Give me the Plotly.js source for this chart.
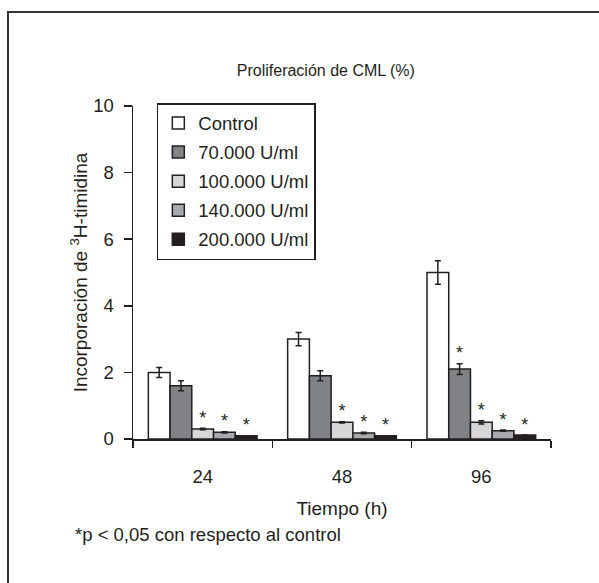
<!DOCTYPE html>
<html>
<head>
<meta charset="utf-8">
<script src="https://cdn.plot.ly/plotly-3.0.1.min.js"></script>
<style>
  html, body { margin: 0; padding: 0; background: #fff; }
  #chart { width: 599px; height: 583px; position: absolute; left: 0; top: 0; }
  #frame { position: absolute; left: 7px; top: 11px; width: 620px; height: 600px;
           border: 2px solid #333; pointer-events: none; }
</style>
</head>
<body>
<div id="chart"></div>
<div id="frame"></div>
<script>
// ---- data ----
const categories = ['24', '48', '96'];
const seriesNames = ['Control', '70.000 U/ml', '100.000 U/ml', '140.000 U/ml', '200.000 U/ml'];
const control  = [2.0, 3.0, 5.0];
const u70      = [1.6, 1.9, 2.1];
const u100     = [0.3, 0.5, 0.5];
const u140     = [0.2, 0.18, 0.25];
const u200     = [0.1, 0.1, 0.12];
const errControl = [0.15, 0.2, 0.35];
const err70      = [0.15, 0.15, 0.16];
const err100     = [0.02, 0.02, 0.05];
const err140     = [0.02, 0.02, 0.02];
const err200     = [0, 0, 0];
// significance vs control (p < 0.05)
const sigControl = [false, false, false];
const sig70      = [false, false, true];
const sig100     = [true, true, true];
const sig140     = [true, true, true];
const sig200     = [true, true, true];

const values = [control, u70, u100, u140, u200];
const errors = [errControl, err70, err100, err140, err200];
const sigs   = [sigControl, sig70, sig100, sig140, sig200];
const colors = ['#ffffff', '#808285', '#d6d6d6', '#a7a9ac', '#231f20'];

const ink = '#231f20';
const font = 'Liberation Sans, Arial, Helvetica, sans-serif';
const fs = 18.5;

const traces = [];
values.forEach((v, i) => {
  traces.push({
    type: 'bar', name: seriesNames[i], x: categories, y: v,
    legendgroup: 'g' + i,
    marker: { color: colors[i], line: { color: ink, width: 1.5 } },
    error_y: { type: 'data', array: errors[i], visible: true, color: ink, thickness: 1.5, width: 3 },
    hoverinfo: 'x+y'
  });
});
values.forEach((v, i) => {
  const xs = [], ys = [], ts = [];
  v.forEach((val, j) => {
    if (sigs[i][j]) {
      xs.push(categories[j]);
      ys.push(val + errors[i][j]);
      ts.push('*');
    }
  });
  if (xs.length === 0) { xs.push(categories[0]); ys.push(null); ts.push('*'); }
  traces.push({
    type: 'scatter', mode: 'text', showlegend: false, x: xs, y: ys, text: ts,
    textposition: 'top center',
    textfont: { family: font, size: 18, color: ink },
    hoverinfo: 'skip'
  });
});

const layout = {
  width: 599, height: 583,
  margin: { l: 133, r: 48, t: 106, b: 143.5 },
  paper_bgcolor: 'rgba(0,0,0,0)', plot_bgcolor: 'rgba(0,0,0,0)',
  font: { family: font, color: ink, size: fs },
  barmode: 'group', bargap: 0.22, bargroupgap: 0,
  scattermode: 'group', scattergap: 0.22,
  title: { text: 'Proliferación de CML (%)', font: { size: 16, color: ink },
           x: 0.544, xanchor: 'center', xref: 'container', y: 1 - 70 / 583, yanchor: 'middle', yref: 'container' },
  xaxis: {
    type: 'category', range: [-0.5, 2.5],
    showline: true, linecolor: ink, linewidth: 1.5, mirror: false,
    ticks: 'outside', tickson: 'boundaries', ticklen: 7, tickwidth: 1.5, tickcolor: ink,
    ticklabelstandoff: 20,
    showgrid: false, zeroline: false,
    tickfont: { size: fs },
    title: { text: 'Tiempo (h)', font: { size: 19 }, standoff: 16 }
  },
  yaxis: {
    range: [0, 10], dtick: 2,
    showline: true, linecolor: ink, linewidth: 1.5,
    ticks: 'outside', ticklen: 8, tickwidth: 1.5, tickcolor: ink,
    ticklabelstandoff: 6,
    showgrid: false, zeroline: false,
    tickfont: { size: fs },
    title: { text: 'Incorporación de <sup>3</sup>H-timidina', font: { size: 19 }, standoff: 0 }
  },
  legend: {
    x: 0.057, y: 1.009, xanchor: 'left', yanchor: 'top',
    bordercolor: ink, borderwidth: 1.5, bgcolor: '#fff',
    font: { size: fs }, traceorder: 'grouped', tracegroupgap: 2
  },
  annotations: [{
    text: '*p < 0,05 con respecto al control', showarrow: false,
    xref: 'paper', yref: 'paper', x: -0.1435, y: -0.286, xanchor: 'left', yanchor: 'middle',
    font: { size: fs, color: ink }
  }]
};

Plotly.newPlot('chart', traces, layout, { displayModeBar: false, staticPlot: true });
</script>
</body>
</html>
